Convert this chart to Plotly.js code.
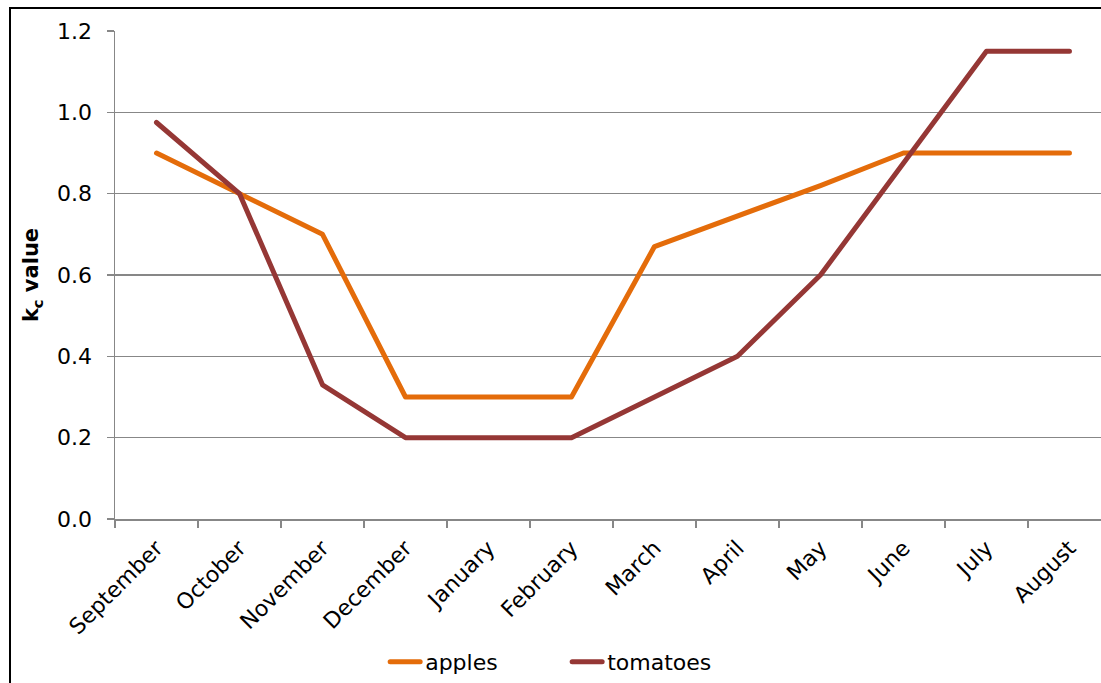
<!DOCTYPE html>
<html>
<head>
<meta charset="utf-8">
<script src="https://cdn.plot.ly/plotly-3.0.1.min.js"></script>
<style>
  html, body { margin: 0; padding: 0; background: #ffffff; overflow: hidden; }
  #wrap { position: relative; width: 1101px; height: 683px; }
  #chart { position: absolute; left: 0; top: 0; width: 1101px; height: 683px; }
  #frame { position: absolute; left: 9px; top: 7px; width: 1200px; height: 800px;
           border-left: 2px solid #000; border-top: 2px solid #000; pointer-events: none; }
  #chart .scatterlayer path.js-line, #chart .legendlines path { stroke-linecap: round; stroke-linejoin: round; }
</style>
</head>
<body>
<div id="wrap">
  <div id="chart"></div>
  <div id="frame"></div>
</div>
<script>
// Crop coefficient by month
const months = ["September", "October", "November", "December", "January", "February",
                "March", "April", "May", "June", "July", "August"];
const apples = [0.9, 0.8, 0.7, 0.3, 0.3, 0.3, 0.67, 0.745, 0.82, 0.9, 0.9, 0.9];
const tomatoes = [0.975, 0.8, 0.33, 0.2, 0.2, 0.2, 0.3, 0.4, 0.6, 0.875, 1.15, 1.15];

const FONT = "DejaVu Sans, Liberation Sans, Arial, sans-serif";
const GRID = "#878787";

const traces = [
  { x: months, y: apples, name: "apples", type: "scatter", mode: "lines",
    line: { color: "#e46c0a", width: 5 } },
  { x: months, y: tomatoes, name: "tomatoes", type: "scatter", mode: "lines",
    line: { color: "#953735", width: 5 } }
];

const layout = {
  width: 1101, height: 683,
  margin: { l: 115, r: 0, t: 31, b: 164 },
  paper_bgcolor: "#ffffff", plot_bgcolor: "#ffffff",
  font: { family: FONT, size: 22, color: "#000000" },
  showlegend: true,
  legend: { orientation: "h", x: 0.274, xanchor: "left", y: -0.293, yanchor: "middle",
            entrywidth: 137, entrywidthmode: "pixels",
            font: { family: FONT, size: 22, color: "#000" },
            bgcolor: "rgba(0,0,0,0)" },
  xaxis: {
    type: "category", range: [-0.5, 11.38], tickson: "boundaries",
    ticks: "outside", ticklen: 7, tickwidth: 1.5, tickcolor: GRID,
    showline: true, linecolor: GRID, linewidth: 1.5,
    showgrid: false, zeroline: false, tickangle: -45, ticklabelstandoff: 6,
    tickfont: { family: FONT, size: 22, color: "#000" }, fixedrange: true
  },
  yaxis: {
    range: [0, 1.2], tickvals: [0, 0.2, 0.4, 0.6, 0.8, 1.0, 1.2],
    ticktext: ["0.0", "0.2", "0.4", "0.6", "0.8", "1.0", "1.2"],
    ticks: "outside", ticklen: 7, tickwidth: 1.5, tickcolor: GRID,
    showline: true, linecolor: GRID, linewidth: 1.5,
    showgrid: true, gridcolor: GRID, gridwidth: 1.5, zeroline: false,
    ticklabelstandoff: 10,
    tickfont: { family: FONT, size: 22, color: "#000" },
    title: { text: "<b>k<sub>c</sub> value</b>", font: { family: FONT, size: 21, color: "#000" }, standoff: 12 },
    fixedrange: true
  }
};

Plotly.newPlot("chart", traces, layout, { staticPlot: true, displayModeBar: false });
</script>
</body>
</html>
